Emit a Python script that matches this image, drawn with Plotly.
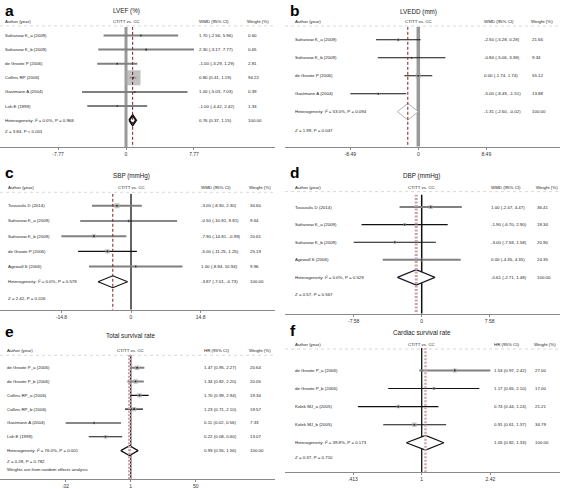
import plotly.graph_objects as go
import math

W, H = 567, 489

# ---------------- data ----------------
a_studies = ["Safranow K_a (2009)", "Safranow K_b (2009)", "de Groote P (2006)",
             "Collins RP (2006)", "Gastmann A (2004)", "Loh E (1999)"]
a_est = [1.70, 2.30, -1.00, 0.80, 1.00, -1.00]
a_lo = [-2.56, -3.17, -3.29, 0.41, -5.03, -4.42]
a_hi = [5.96, 7.77, 1.29, 1.19, 7.03, 2.42]
a_weight = [0.60, 0.65, 2.81, 94.22, 0.39, 1.33]
a_pooled = [0.76, 0.37, 1.15]
a_het = "Heterogeneity: I² = 0.0%, P = 0.968"
a_z = "Z = 3.84, P < 0.001"
a_ticks = [-7.77, 0, 7.77]
a_ticklabels = ["-7.77", "0", "7.77"]

b_studies = ["Safranow K_a (2009)", "Safranow K_b (2009)", "de Groote P (2006)", "Gastmann A (2004)"]
b_est = [-2.50, -0.84, 0.00, -5.00]
b_lo = [-5.28, -5.06, -1.74, -8.49]
b_hi = [0.28, 3.38, 1.74, -1.51]
b_weight = [21.66, 9.34, 55.12, 13.88]
b_pooled = [-1.31, -2.60, -0.02]
b_het = "Heterogeneity: I² = 53.0%, P = 0.094"
b_z = "Z = 1.99, P = 0.047"
b_ticks = [-8.49, 0, 8.49]
b_ticklabels = ["-8.49", "0", "8.49"]

c_studies = ["Tousoulis D (2014)", "Safranow K_a (2009)", "Safranow K_b (2009)",
             "de Groote P (2006)", "Agewall S (2006)"]
c_est = [-3.00, -0.50, -7.90, -5.00, 1.00]
c_lo = [-8.30, -10.81, -14.81, -11.25, -8.94]
c_hi = [2.30, 9.81, -0.99, 1.25, 10.94]
c_weight = [34.60, 9.64, 20.61, 25.19, 9.96]
c_pooled = [-3.87, -7.01, -0.73]
c_het = "Heterogeneity: I² = 0.0%, P = 0.578"
c_z = "Z = 2.42, P = 0.016"
c_ticks = [-14.8, 0, 14.8]
c_ticklabels = ["-14.8", "0", "14.8"]

d_studies = ["Tousoulis D (2014)", "Safranow K_a (2009)", "Safranow K_b (2009)", "Agewall S (2006)"]
d_est = [1.00, -1.90, -3.00, 0.00]
d_lo = [-2.47, -6.70, -7.58, -4.35]
d_hi = [4.47, 2.90, 1.58, 4.35]
d_weight = [36.41, 18.34, 20.90, 24.35]
d_pooled = [-0.61, -2.71, 1.48]
d_het = "Heterogeneity: I² = 0.0%, P = 0.529"
d_z = "Z = 0.57, P = 0.567"
d_ticks = [-7.58, 0, 7.58]
d_ticklabels = ["-7.58", "0", "7.58"]

e_studies = ["de Groote P_a (2006)", "de Groote P_b (2006)", "Collins RP_a (2006)",
             "Collins RP_b (2006)", "Gastmann A (2004)", "Loh E (1999)"]
e_est = [1.47, 1.34, 1.70, 1.23, 0.11, 0.22]
e_lo = [0.95, 0.82, 0.99, 0.71, 0.02, 0.08]
e_hi = [2.27, 2.20, 2.94, 2.10, 0.56, 0.60]
e_weight = [20.64, 20.05, 19.34, 19.57, 7.33, 13.07]
e_pooled = [0.93, 0.55, 1.56]
e_het = "Heterogeneity: I² = 76.0%, P = 0.001"
e_z = "Z = 0.28, P = 0.782"
e_note = "Weights are from random effects analysis"
e_ticks = [0.02, 1, 50]
e_ticklabels = [".02", "1", "50"]

f_studies = ["de Groote P_a (2006)", "de Groote P_b (2006)", "Kolek MJ_a (2005)", "Kolek MJ_b (2005)"]
f_est = [1.53, 1.17, 0.74, 0.91]
f_lo = [0.97, 0.65, 0.44, 0.61]
f_hi = [2.42, 2.10, 1.24, 1.37]
f_weight = [27.00, 17.00, 21.21, 34.79]
f_pooled = [1.05, 0.82, 1.33]
f_het = "Heterogeneity: I² = 39.8%, P = 0.173"
f_z = "Z = 0.37, P = 0.710"
f_ticks = [1 / 2.42, 1, 2.42]
f_ticklabels = [".413", "1", "2.42"]

# ---------------- styles ----------------
GRAY = ("#808080", 2.0)
BLACK = ("#111111", 1.1)
RED_THIN = dict(color="#7a1f24", width=1, dash="3px,2px")
PINK_THICK = dict(color="#c9a3a6", width=3, dash="2px,1.5px")
FONT = "Liberation Sans, Arial, sans-serif"

panels = [
    dict(letter="a", title="LVEF (%)", studies=a_studies, est=a_est, lo=a_lo, hi=a_hi, w=a_weight,
         pooled=a_pooled, het=a_het, z=a_z, note=None, ticks=a_ticks, ticklabels=a_ticklabels,
         metric="WMD (95% CI)", log=False,
         left=0, right=275, axis_y=148, null_px=126, scale=8.75, top=27, row0=35.7, step=14.2,
         title_y=11, header_y=21.5, z_y=132, note_y=None, letter_y=10.5, cols=(3, 197, 246),
         box_max=15, diamond_h=5,
         ci=[GRAY] * 6, null_line=dict(color="#999999", width=3),
         pooled_line=RED_THIN, diamond=dict(color="#111111", width=2)),
    dict(letter="b", title="LVEDD (mm)", studies=b_studies, est=b_est, lo=b_lo, hi=b_hi, w=b_weight,
         pooled=b_pooled, het=b_het, z=b_z, note=None, ticks=b_ticks, ticklabels=b_ticklabels,
         metric="WMD (95% CI)", log=False,
         left=285, right=560, axis_y=147.7, null_px=418.3, scale=8.01, top=27, row0=40, step=18.1,
         title_y=11.7, header_y=21.7, z_y=131, note_y=None, letter_y=10.5, cols=(293, 481.7, 530),
         box_max=5, diamond_h=8.5,
         ci=[BLACK] * 4, null_line=dict(color="#999999", width=3.5),
         pooled_line=RED_THIN, diamond=dict(color="#a0a0a0", width=0.8)),
    dict(letter="c", title="SBP (mmHg)", studies=c_studies, est=c_est, lo=c_lo, hi=c_hi, w=c_weight,
         pooled=c_pooled, het=c_het, z=c_z, note=None, ticks=c_ticks, ticklabels=c_ticklabels,
         metric="WMD (95% CI)", log=False,
         left=0, right=275, axis_y=311.7, null_px=131, scale=4.7, top=195, row0=207, step=15.3,
         title_y=176.7, header_y=189, z_y=300, note_y=None, letter_y=174, cols=(5.7, 199.3, 248),
         box_max=5, diamond_h=6,
         ci=[GRAY, BLACK, GRAY, BLACK, GRAY], null_line=dict(color="#111111", width=1.3),
         pooled_line=RED_THIN, diamond=dict(color="#111111", width=1.2)),
    dict(letter="d", title="DBP (mmHg)", studies=d_studies, est=d_est, lo=d_lo, hi=d_hi, w=d_weight,
         pooled=d_pooled, het=d_het, z=d_z, note=None, ticks=d_ticks, ticklabels=d_ticklabels,
         metric="WMD (95% CI)", log=False,
         left=285, right=560, axis_y=315.7, null_px=421.7, scale=8.97, top=195.7, row0=208.3, step=17.7,
         title_y=176.7, header_y=188.3, z_y=296, note_y=None, letter_y=174, cols=(293.3, 489, 535),
         box_max=4, diamond_h=7.7,
         ci=[GRAY, BLACK, BLACK, GRAY], null_line=dict(color="#111111", width=1.5),
         pooled_line=PINK_THICK, diamond=dict(color="#1a1a2e", width=1.2)),
    dict(letter="e", title="Total survival rate", studies=e_studies, est=e_est, lo=e_lo, hi=e_hi, w=e_weight,
         pooled=e_pooled, het=e_het, z=e_z, note=e_note, ticks=e_ticks, ticklabels=e_ticklabels,
         metric="HR (95% CI)", log=True,
         left=0, right=275, axis_y=482, null_px=130.7, scale=38.3, top=357, row0=370, step=13.9,
         title_y=337.3, header_y=353, z_y=464, note_y=472.7, letter_y=334, cols=(5, 202, 248),
         box_max=4.5, diamond_h=5,
         ci=[GRAY, GRAY, BLACK, BLACK, BLACK, BLACK], null_line=dict(color="#111111", width=1.3),
         pooled_line=PINK_THICK, diamond=dict(color="#111111", width=1.2)),
    dict(letter="f", title="Cardiac survival rate", studies=f_studies, est=f_est, lo=f_lo, hi=f_hi, w=f_weight,
         pooled=f_pooled, het=f_het, z=f_z, note=None, ticks=f_ticks, ticklabels=f_ticklabels,
         metric="HR (95% CI)", log=True,
         left=285, right=560, axis_y=475, null_px=421.7, scale=179, top=350, row0=372.7, step=18.2,
         title_y=335, header_y=346.7, z_y=460.7, note_y=None, letter_y=333, cols=(293, 492.3, 533),
         box_max=4.5, diamond_h=7.3,
         ci=[GRAY, BLACK, BLACK, BLACK], null_line=dict(color="#111111", width=1.3),
         pooled_line=dict(color="#d0a8ab", width=2.5, dash="2px,1.5px"), diamond=dict(color="#111111", width=1.2)),
]

fig = go.Figure()
annotations = []
shapes = []
layout_axes = {}

TXT = 4.4
TXTC = "#222222"


def py(px):
    return 1 - px / H


def pxx(px):
    return px / W


for k, p in enumerate(panels, start=1):
    xa = "x" if k == 1 else f"x{k}"
    ya = "y" if k == 1 else f"y{k}"
    n = len(p["studies"])
    null_val = 1 if p["log"] else 0

    v_top = (p["top"] - p["row0"]) / p["step"]
    v_bot = (p["axis_y"] - p["row0"]) / p["step"]
    xr = [(p["left"] - p["null_px"]) / p["scale"], (p["right"] - p["null_px"]) / p["scale"]]

    layout_axes["xaxis" if k == 1 else f"xaxis{k}"] = dict(
        domain=[pxx(p["left"]), pxx(p["right"])], range=xr,
        type="log" if p["log"] else "linear", anchor=ya,
        showline=True, linecolor="#8a8a8a", linewidth=1, showgrid=False, zeroline=False,
        ticks="outside", ticklen=2, tickcolor="#8a8a8a", tickwidth=1,
        tickvals=p["ticks"], ticktext=p["ticklabels"],
        tickfont=dict(size=5, color="#333333", family=FONT), fixedrange=True,
    )
    layout_axes["yaxis" if k == 1 else f"yaxis{k}"] = dict(
        domain=[py(p["axis_y"]), py(p["top"])], range=[v_bot, v_top],
        anchor=xa, visible=False, fixedrange=True,
    )

    # null line
    fig.add_trace(go.Scatter(x=[null_val, null_val], y=[v_top, v_bot], mode="lines",
                             line=p["null_line"], xaxis=xa, yaxis=ya, hoverinfo="skip"))
    # CI lines
    for i in range(n):
        col, wd = p["ci"][i]
        fig.add_trace(go.Scatter(x=[p["lo"][i], p["hi"][i]], y=[i, i], mode="lines",
                                 line=dict(color=col, width=wd), xaxis=xa, yaxis=ya, hoverinfo="skip"))
    # boxes
    wmax = max(p["w"])
    sizes = [max(2.0, p["box_max"] * math.sqrt(w / wmax)) for w in p["w"]]
    fig.add_trace(go.Scatter(x=p["est"], y=list(range(n)), mode="markers",
                             marker=dict(symbol="square", size=sizes, color="#a8a8a8", line=dict(width=0)),
                             xaxis=xa, yaxis=ya, hoverinfo="skip"))
    fig.add_trace(go.Scatter(x=p["est"], y=list(range(n)), mode="markers",
                             marker=dict(symbol="square", size=1.6, color="#222222", line=dict(width=0)),
                             xaxis=xa, yaxis=ya, hoverinfo="skip"))
    # diamond
    est, lo, hi = p["pooled"]
    h = p["diamond_h"] / p["step"]
    fig.add_trace(go.Scatter(x=[lo, est, hi, est, lo], y=[n, n - h, n, n + h, n], mode="lines",
                             fill="toself", fillcolor="white", line=p["diamond"],
                             xaxis=xa, yaxis=ya, hoverinfo="skip"))
    # pooled dashed line
    fig.add_trace(go.Scatter(x=[est, est], y=[v_top, v_bot], mode="lines",
                             line=p["pooled_line"], xaxis=xa, yaxis=ya, hoverinfo="skip"))

    # header dotted line
    shapes.append(dict(type="line", xref="paper", yref="paper",
                       x0=pxx(p["left"]), x1=pxx(p["right"]),
                       y0=py(p["header_y"] + 4.5), y1=py(p["header_y"] + 4.5),
                       line=dict(color="#c8c8c8", width=0.7, dash="dot")))

    # texts
    c0, c1, c2 = p["cols"]

    def ann(text, x, y, yref="paper", xanchor="left", size=TXT, bold=False, color=TXTC):
        annotations.append(dict(text=f"<b>{text}</b>" if bold else text, x=x, y=y,
                                xref="paper", yref=yref, xanchor=xanchor, yanchor="middle",
                                showarrow=False, font=dict(size=size, color=color, family=FONT)))

    ann(p["letter"], pxx(p["left"] + 3), py(p["letter_y"]), size=15.5, bold=True, color="#000000")
    ann(p["title"], pxx(p["null_px"]), py(p["title_y"]), xanchor="center", size=6.3)
    ann("Author (year)", pxx(c0), py(p["header_y"]))
    ann("CT/TT vs. CC", pxx(p["null_px"]), py(p["header_y"]), xanchor="center")
    ann(p["metric"], pxx(c1), py(p["header_y"]))
    ann("Weight (%)", pxx(c2 - 1), py(p["header_y"]))
    for i in range(n):
        ann(p["studies"][i], pxx(c0), i, yref=ya)
        ann(f"{p['est'][i]:.2f} ({p['lo'][i]:.2f}, {p['hi'][i]:.2f})", pxx(c1), i, yref=ya)
        ann(f"{p['w'][i]:.2f}", pxx(c2), i, yref=ya)
    ann(p["het"], pxx(c0), n, yref=ya)
    ann(f"{est:.2f} ({lo:.2f}, {hi:.2f})", pxx(c1), n, yref=ya)
    ann(f"{sum(p['w']):.2f}", pxx(c2), n, yref=ya)
    ann(p["z"], pxx(c0), py(p["z_y"]))
    if p["note"]:
        ann(p["note"], pxx(c0), py(p["note_y"]))

fig.update_layout(
    width=W, height=H, margin=dict(l=0, r=0, t=0, b=0),
    paper_bgcolor="white", plot_bgcolor="white", showlegend=False,
    annotations=annotations, shapes=shapes, **layout_axes,
)

fig.write_html("out.html", config={"displayModeBar": False},
               post_script="document.body.style.margin='0px';")
